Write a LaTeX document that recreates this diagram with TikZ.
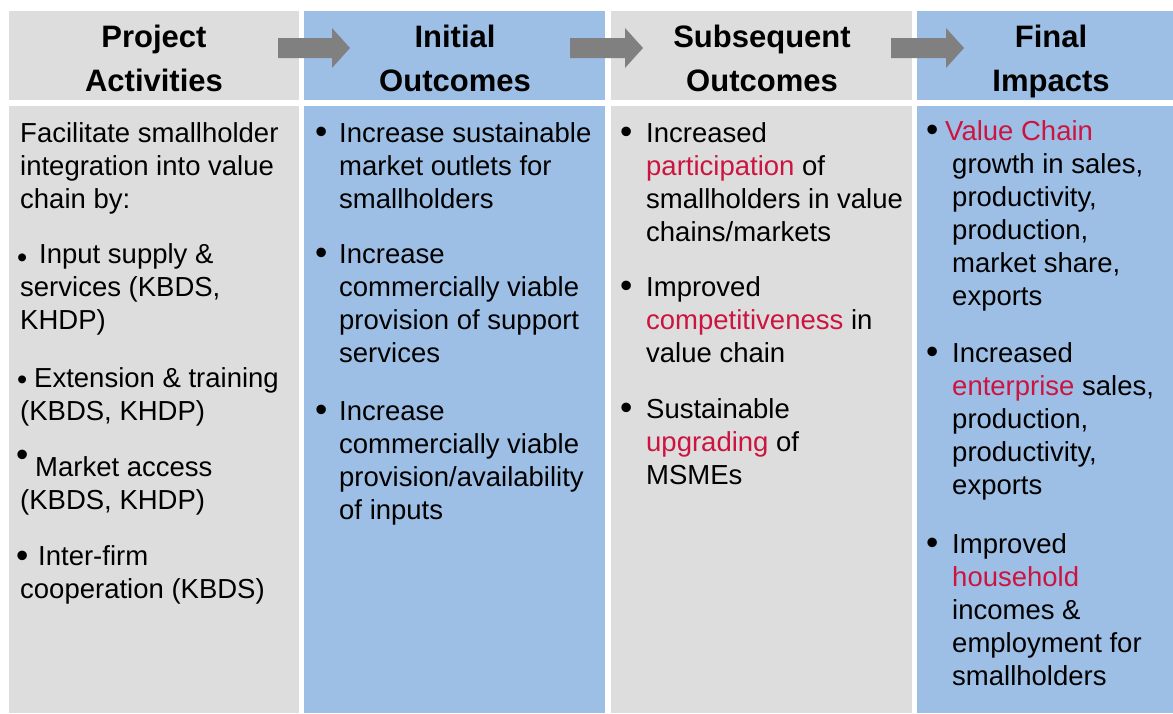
\documentclass[tikz,border=0pt]{standalone}
\usepackage{fontspec}
\setmainfont{Liberation Sans}
\definecolor{boxgray}{RGB}{221,221,221}
\definecolor{boxblue}{RGB}{157,191,229}
\definecolor{arrgray}{RGB}{128,128,128}
\definecolor{accent}{RGB}{204,20,64}
\newcommand\acc[1]{\textcolor{accent}{#1}}
\newcommand\txtline[4]{\node[txt] (#1) at (#2,#3) {#4};}
\newcommand\bulline[3]{\node[bul] (#1) at (#2,#3) {•};}
\newcommand\smbulline[3]{\node[smbul] (#1) at (#2,#3) {•};}
\tikzset{
  panel/.style={inner sep=0pt, outer sep=0pt, draw=none},
  head/.style={font=\fontsize{31}{44}\selectfont\bfseries, anchor=base, inner sep=0pt},
  txt/.style={font=\fontsize{27.5}{33}\selectfont, anchor=base west, inner sep=0pt},
  bul/.style={font=\fontsize{35}{35}\selectfont, anchor=base west, inner sep=0pt},
  smbul/.style={font=\fontsize{29}{29}\selectfont, anchor=base west, inner sep=0pt},
  flow/.style={fill=arrgray, draw=none}
}
\begin{document}
\begin{tikzpicture}[x=1pt,y=-1pt]
\useasboundingbox (0,0) rectangle (1173,713);
\fill[white] (0,0) rectangle (1173,713);
% header panels
\node[panel,fill=boxgray,minimum width=290pt,minimum height=89pt] (h1) at (154,55.5) {};
\node[panel,fill=boxblue,minimum width=301pt,minimum height=89pt] (h2) at (454.5,55.5) {};
\node[panel,fill=boxgray,minimum width=301pt,minimum height=89pt] (h3) at (761.5,55.5) {};
\node[panel,fill=boxblue,minimum width=256pt,minimum height=89pt] (h4) at (1045,55.5) {};
% body panels
\node[panel,fill=boxgray,minimum width=290pt,minimum height=607pt] (p1) at (154,409.5) {};
\node[panel,fill=boxblue,minimum width=301pt,minimum height=607pt] (p2) at (454.5,409.5) {};
\node[panel,fill=boxgray,minimum width=301pt,minimum height=607pt] (p3) at (761.5,409.5) {};
\node[panel,fill=boxblue,minimum width=256pt,minimum height=607pt] (p4) at (1045,409.5) {};
% arrows
\fill[flow] (278,38) -- (332,38) -- (332,28) -- (350,48) -- (332,68) -- (332,58) -- (278,58) -- cycle;
\fill[flow] (570,38) -- (625,38) -- (625,28) -- (643,48) -- (625,68) -- (625,58) -- (570,58) -- cycle;
\fill[flow] (891,38) -- (946,38) -- (946,28) -- (964,48) -- (946,68) -- (946,58) -- (891,58) -- cycle;
% headers
\node[head] (t1a) at (154,47) {Project};
\node[head] (t1b) at (154,91) {Activities};
\node[head] (t2a) at (455,47) {Initial};
\node[head] (t2b) at (455,91) {Outcomes};
\node[head] (t3a) at (762,47) {Subsequent};
\node[head] (t3b) at (762,91) {Outcomes};
\node[head] (t4a) at (1051,47) {Final};
\node[head] (t4b) at (1051,91) {Impacts};
% column 1
\txtline{a1}{20}{142}{Facilitate smallholder}
\txtline{a2}{20}{175}{integration into value}
\txtline{a3}{20}{208}{chain by:}
\smbulline{ab1}{17}{267}
\txtline{a4}{39}{263}{Input supply \&}
\txtline{a5}{20}{296}{services (KBDS,}
\txtline{a6}{20}{329}{KHDP)}
\smbulline{ab2}{17}{389}
\txtline{a7}{34}{387}{Extension \& training}
\txtline{a8}{20}{420}{(KBDS, KHDP)}
\bulline{ab3}{16}{466}
\txtline{a9}{35}{476}{Market access}
\txtline{a10}{20}{509}{(KBDS, KHDP)}
\bulline{ab4}{16}{567}
\txtline{a11}{38}{565}{Inter-firm}
\txtline{a12}{20}{598}{cooperation (KBDS)}
% column 2
\bulline{bb1}{315}{143}
\txtline{b1}{339}{142}{Increase sustainable}
\txtline{b2}{339}{175}{market outlets for}
\txtline{b3}{339}{208}{smallholders}
\bulline{bb2}{315}{264}
\txtline{b4}{339}{263}{Increase}
\txtline{b5}{339}{296}{commercially viable}
\txtline{b6}{339}{329}{provision of support}
\txtline{b7}{339}{362}{services}
\bulline{bb3}{315}{421}
\txtline{b8}{339}{420}{Increase}
\txtline{b9}{339}{453}{commercially viable}
\txtline{b10}{339}{486}{provision/availability}
\txtline{b11}{339}{519}{of inputs}
% column 3
\bulline{cb1}{620}{143}
\txtline{c1}{646}{142}{Increased}
\txtline{c2}{646}{175}{\acc{participation} of}
\txtline{c3}{646}{208}{smallholders in value}
\txtline{c4}{646}{241}{chains/markets}
\bulline{cb2}{620}{297}
\txtline{c5}{646}{296}{Improved}
\txtline{c6}{646}{329}{\acc{competitiveness} in}
\txtline{c7}{646}{362}{value chain}
\bulline{cb3}{620}{419}
\txtline{c8}{646}{418}{Sustainable}
\txtline{c9}{646}{451}{\acc{upgrading} of}
\txtline{c10}{646}{484}{MSMEs}
% column 4
\bulline{db1}{926}{141}
\txtline{d1}{945}{140}{\acc{Value Chain}}
\txtline{d2}{952}{173}{growth in sales,}
\txtline{d3}{952}{206}{productivity,}
\txtline{d4}{952}{239}{production,}
\txtline{d5}{952}{272}{market share,}
\txtline{d6}{952}{305}{exports}
\bulline{db2}{926}{363}
\txtline{d7}{952}{362}{Increased}
\txtline{d8}{952}{395}{\acc{enterprise} sales,}
\txtline{d9}{952}{428}{production,}
\txtline{d10}{952}{461}{productivity,}
\txtline{d11}{952}{494}{exports}
\bulline{db3}{926}{554}
\txtline{d12}{952}{553}{Improved}
\txtline{d13}{952}{586}{\acc{household}}
\txtline{d14}{952}{619}{incomes \&}
\txtline{d15}{952}{652}{employment for}
\txtline{d16}{952}{685}{smallholders}
\end{tikzpicture}
\end{document}
